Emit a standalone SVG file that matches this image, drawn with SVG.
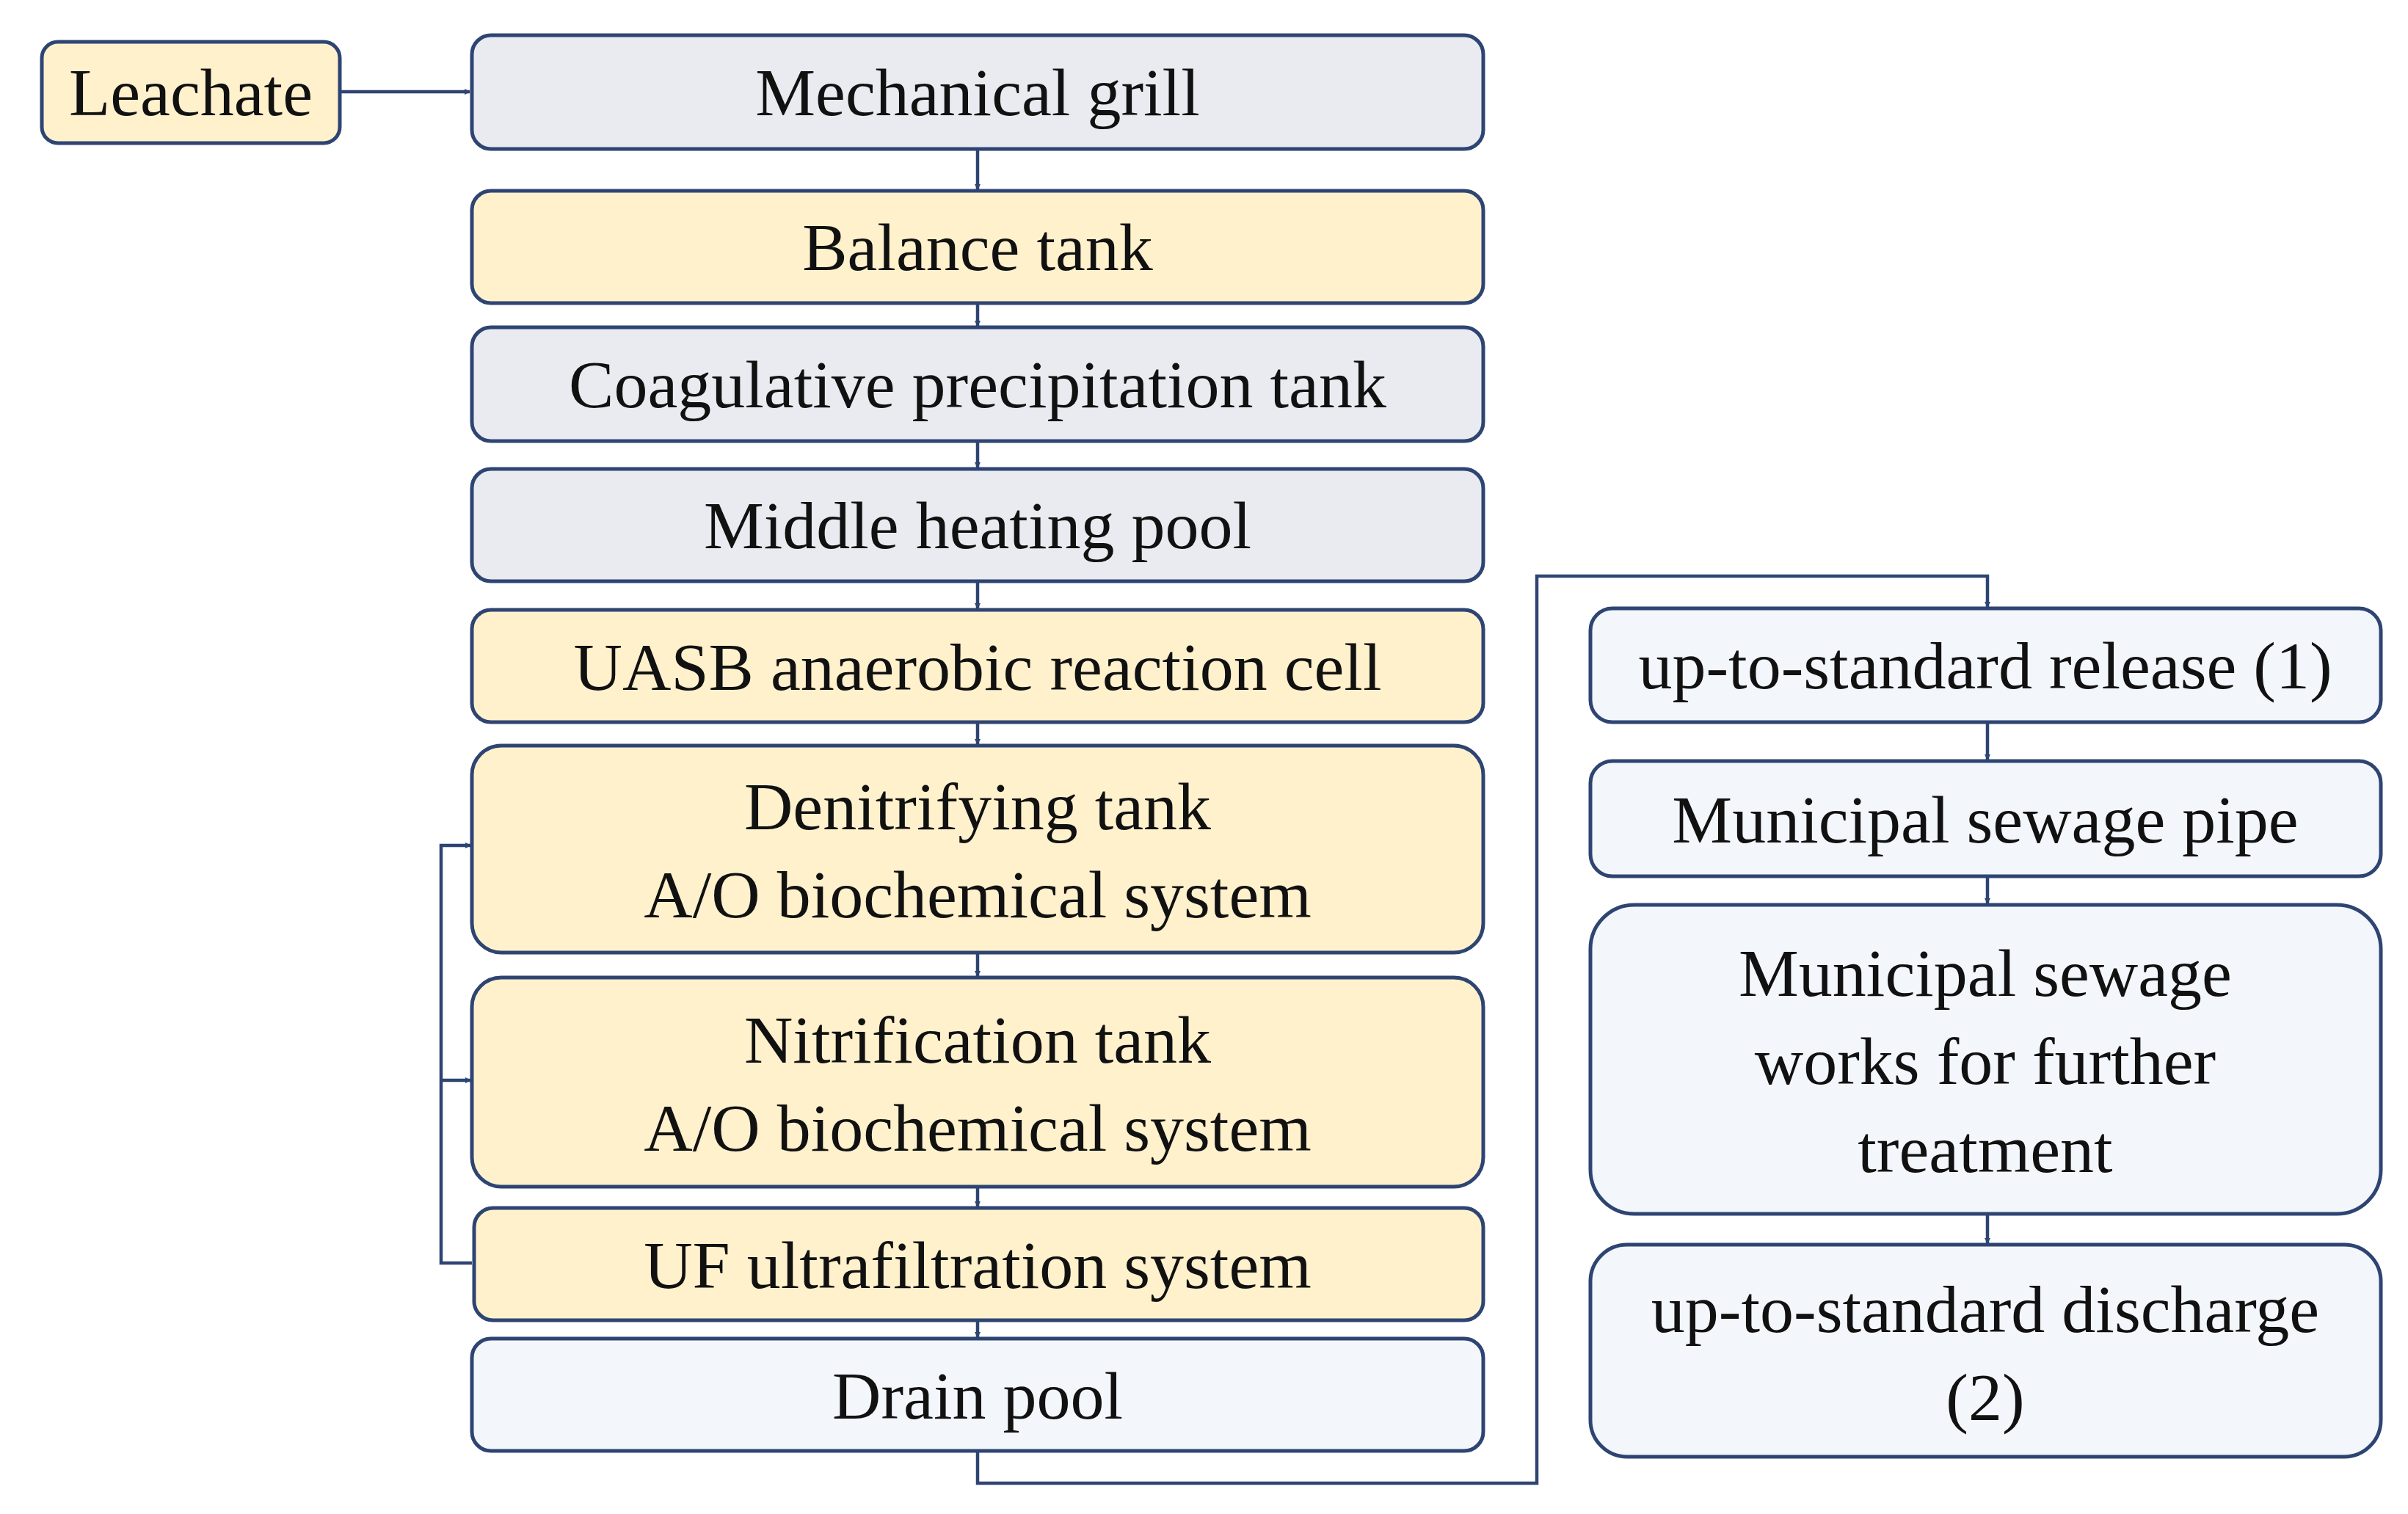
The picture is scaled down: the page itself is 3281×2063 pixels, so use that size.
<svg xmlns="http://www.w3.org/2000/svg" width="3281" height="2063" viewBox="0 0 3281 2063">
<style>
.b{stroke:#2e4472;stroke-width:5}
.g{fill:#e9ebf0}.y{fill:#fff1cc}.w{fill:#f3f7fc}
text{font-family:"Liberation Serif",serif;font-size:92px;fill:#111;text-anchor:middle}
.c{fill:none;stroke:#2e4472;stroke-width:4.5}
</style>
<defs><marker id="a" markerWidth="8" markerHeight="8" refX="7" refY="4" orient="auto" markerUnits="userSpaceOnUse"><path d="M0,0L8,4L0,8z" fill="#2e4472"/></marker></defs>
<rect width="3281" height="2063" fill="#fff"/>
<g id="connectors">
<path class="c" d="M463,125H640" marker-end="url(#a)"/>
<path class="c" d="M1332,203V258" marker-end="url(#a)"/>
<path class="c" d="M1332,413V444" marker-end="url(#a)"/>
<path class="c" d="M1332,601V637" marker-end="url(#a)"/>
<path class="c" d="M1332,792V829" marker-end="url(#a)"/>
<path class="c" d="M1332,984V1014" marker-end="url(#a)"/>
<path class="c" d="M1332,1298V1330" marker-end="url(#a)"/>
<path class="c" d="M1332,1617V1644" marker-end="url(#a)"/>
<path class="c" d="M1332,1799V1822" marker-end="url(#a)"/>
<path class="c" d="M643,1721H601V1152H641" marker-end="url(#a)"/>
<path class="c" d="M601,1472H641" marker-end="url(#a)"/>
<path class="c" d="M1332,1977V2021H2094V785H2708V827" marker-end="url(#a)"/>
<path class="c" d="M2708,984V1035" marker-end="url(#a)"/>
<path class="c" d="M2708,1194V1231" marker-end="url(#a)"/>
<path class="c" d="M2708,1654V1694" marker-end="url(#a)"/>
</g>
<g id="leachate"><rect class="b y" x="57" y="57" width="406" height="138" rx="22"/><text x="260" y="157">Leachate</text></g>
<g id="grill"><rect class="b g" x="643" y="48" width="1378" height="155" rx="26"/><text x="1332" y="157">Mechanical grill</text></g>
<g id="balance"><rect class="b y" x="643" y="260" width="1378" height="153" rx="26"/><text x="1332" y="368">Balance tank</text></g>
<g id="coag"><rect class="b g" x="643" y="446" width="1378" height="155" rx="26"/><text x="1332" y="555">Coagulative precipitation tank</text></g>
<g id="middle"><rect class="b g" x="643" y="639" width="1378" height="153" rx="26"/><text x="1332" y="747">Middle heating pool</text></g>
<g id="uasb"><rect class="b y" x="643" y="831" width="1378" height="153" rx="26"/><text x="1332" y="940">UASB anaerobic reaction cell</text></g>
<g id="denit"><rect class="b y" x="643" y="1016" width="1378" height="282" rx="40"/><text x="1332" y="1130">Denitrifying tank</text><text x="1332" y="1250">A/O biochemical system</text></g>
<g id="nitri"><rect class="b y" x="643" y="1332" width="1378" height="285" rx="40"/><text x="1332" y="1448">Nitrification tank</text><text x="1332" y="1568">A/O biochemical system</text></g>
<g id="uf"><rect class="b y" x="646" y="1646" width="1375" height="153" rx="26"/><text x="1332" y="1755">UF ultrafiltration system</text></g>
<g id="drain"><rect class="b w" x="643" y="1824" width="1378" height="153" rx="26"/><text x="1332" y="1933">Drain pool</text></g>
<g id="release"><rect class="b w" x="2167" y="829" width="1077" height="155" rx="30"/><text x="2705" y="938">up-to-standard release (1)</text></g>
<g id="pipe"><rect class="b w" x="2167" y="1037" width="1077" height="157" rx="30"/><text x="2705" y="1148">Municipal sewage pipe</text></g>
<g id="works"><rect class="b w" x="2167" y="1233" width="1077" height="421" rx="60"/><text x="2705" y="1357">Municipal sewage</text><text x="2705" y="1477">works for further</text><text x="2705" y="1597">treatment</text></g>
<g id="discharge"><rect class="b w" x="2167" y="1696" width="1077" height="289" rx="50"/><text x="2705" y="1815">up-to-standard discharge</text><text x="2705" y="1935">(2)</text></g>
</svg>
